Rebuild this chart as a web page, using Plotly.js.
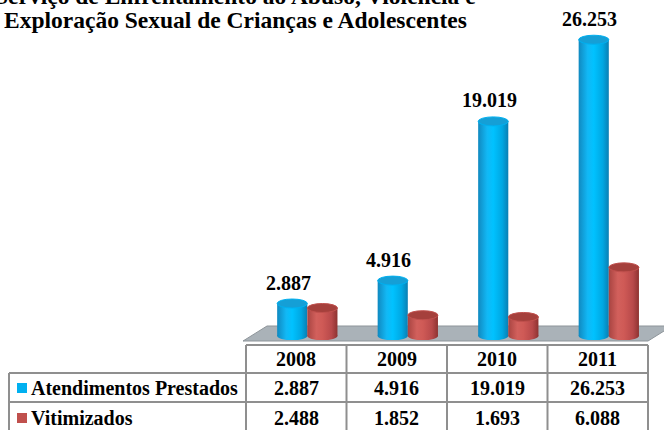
<!DOCTYPE html>
<html><head><meta charset="utf-8">
<script src="https://cdn.plot.ly/plotly-3.0.1.min.js"></script>
<style>html,body{margin:0;padding:0;background:#fff;overflow:hidden}</style>
</head><body><div id="chart" style="width:664px;height:430px"></div>
<script>
// ---- data ----
const years = ['2008', '2009', '2010', '2011'];
const atendimentos = [2887, 4916, 19019, 26253];
const vitimizados = [2488, 1852, 1693, 6088];
const seriesNames = ['Atendimentos Prestados', 'Vitimizados'];
const titleLines = ['Serviço de Enfrentamento ao Abuso, Violência e',
                    'Exploração Sexual de Crianças e Adolescentes'];

// ---- style / layout helpers ----
const W = 664, H = 430, ML = 246, MR = 16, MT = 20, MB = 86;
const PW = W - ML - MR, PH = H - MT - MB;
const px2paper = px => (px - ML) / PW;
const py2paper = py => (H - MB - py) / PH;
const FONT = "'Liberation Serif', 'Times New Roman', serif";
const BLUE = '#00b0f0', RED = '#c0504d';
const BLUE_TOP = '#159fd6', RED_TOP = '#a5403c';
const GRID = '#8f8f8f';
const BAR_W = 0.30, OFFS = [-0.19, 0.11];
const fmt = v => String(v).replace(/\B(?=(\d{3})+(?!\d))/g, '.');

const seriesVals = [atendimentos, vitimizados];
const seriesCols = [BLUE, RED];
const topCols = [BLUE_TOP, RED_TOP];

const traces = seriesVals.map((vals, k) => ({
  type: 'bar', x: years, y: vals, name: seriesNames[k],
  offset: OFFS[k], width: BAR_W,
  marker: {color: seriesCols[k], line: {width: 0}},
  hoverinfo: 'skip', showlegend: false
}));

const shapes = [];
// floor (decoration)
const fb = py2paper(341), ft = py2paper(326), fo = 24 / PW;
shapes.push({type: 'path', xref: 'paper', yref: 'paper', layer: 'below',
  path: `M ${px2paper(243)},${fb} L 1,${fb} L ${1 + fo},${ft} L ${px2paper(267)},${ft} Z`,
  fillcolor: '#aab2b8', line: {color: '#8d9499', width: 1}});
// cylinder bottoms
const bottomIdx = [];
seriesVals.forEach((vals, k) => vals.forEach((v, i) => {
  bottomIdx.push([shapes.length, k]);
  shapes.push({type: 'circle', xref: 'x', yref: 'y', layer: 'below',
    x0: i + OFFS[k], x1: i + OFFS[k] + BAR_W,
    ysizemode: 'pixel', yanchor: 0, y0: -4, y1: 4,
    fillcolor: seriesCols[k], line: {width: 0}});
}));
// cylinder tops
seriesVals.forEach((vals, k) => vals.forEach((v, i) => {
  shapes.push({type: 'circle', xref: 'x', yref: 'y', layer: 'above',
    x0: i + OFFS[k], x1: i + OFFS[k] + BAR_W,
    ysizemode: 'pixel', yanchor: v, y0: -4.5, y1: 4.5,
    fillcolor: topCols[k], line: {color: seriesCols[k], width: 1}});
}));

// table grid
const tTop = py2paper(345), tR1 = py2paper(373), tR2 = py2paper(402), tBot = py2paper(440);
const tLeft = px2paper(9);
const line = (x0, y0, x1, y1) => ({type: 'line', xref: 'paper', yref: 'paper',
  x0, y0, x1, y1, line: {color: GRID, width: 2}});
shapes.push(line(0, tTop, 1, tTop));
shapes.push(line(tLeft, tR1, 1, tR1));
shapes.push(line(tLeft, tR2, 1, tR2));
shapes.push(line(tLeft, tR1, tLeft, tBot));
for (let c = 0; c <= years.length; c++) shapes.push(line(c / years.length, tTop, c / years.length, tBot));
// legend keys
const rowCenters = [388, 418];
rowCenters.forEach((cy, k) => shapes.push({type: 'rect', xref: 'paper', yref: 'paper',
  x0: px2paper(17), x1: px2paper(27), y0: py2paper(cy + 5), y1: py2paper(cy - 5),
  fillcolor: seriesCols[k], line: {width: 0}}));

const annotations = [];
const tf = (size) => ({family: FONT, size, color: '#000'});
// title (first line partly above the top edge, as in the reference)
annotations.push({xref: 'paper', yref: 'paper', x: px2paper(235), y: py2paper(11), xanchor: 'center', yanchor: 'bottom',
  text: '<b>' + titleLines[0] + '</b>', showarrow: false, font: tf(23.5)});
annotations.push({xref: 'paper', yref: 'paper', x: px2paper(235), y: py2paper(35), xanchor: 'center', yanchor: 'bottom',
  text: '<b>' + titleLines[1] + '</b>', showarrow: false, font: tf(23.5)});
// data labels (first series)
atendimentos.forEach((v, i) => annotations.push({xref: 'x', yref: 'y', x: i, y: v,
  xshift: -8, yshift: 8, yanchor: 'bottom', showarrow: false,
  text: '<b>' + fmt(v) + '</b>', font: tf(20)}));
// table header
years.forEach((yr, i) => annotations.push({xref: 'x', yref: 'paper', x: i, y: py2paper(359),
  yanchor: 'middle', showarrow: false, text: '<b>' + yr + '</b>', font: tf(20)}));
// table rows
seriesVals.forEach((vals, k) => {
  annotations.push({xref: 'paper', yref: 'paper', x: px2paper(29), y: py2paper(rowCenters[k]),
    xanchor: 'left', yanchor: 'middle', showarrow: false, text: '<b>' + seriesNames[k] + '</b>', font: tf(20)});
  vals.forEach((v, i) => annotations.push({xref: 'x', yref: 'paper', x: i, y: py2paper(rowCenters[k]),
    yanchor: 'middle', showarrow: false, text: '<b>' + fmt(v) + '</b>', font: tf(20)}));
});

const layout = {
  width: W, height: H, margin: {l: ML, r: MR, t: MT, b: MB, pad: 0},
  paper_bgcolor: '#fff', plot_bgcolor: 'rgba(0,0,0,0)',
  barmode: 'overlay', showlegend: false,
  xaxis: {type: 'category', range: [-0.5, years.length - 0.5], visible: false, fixedrange: true},
  yaxis: {range: [-700, 28000], visible: false, fixedrange: true},
  shapes, annotations
};

Plotly.newPlot('chart', traces, layout, {displayModeBar: false, staticPlot: true}).then(gd => {
  const ns = 'http://www.w3.org/2000/svg';
  const svg = gd.querySelector('svg.main-svg');
  let defs = svg.querySelector('defs');
  if (!defs) { defs = document.createElementNS(ns, 'defs'); svg.insertBefore(defs, svg.firstChild); }
  const grads = [
    [['0', '#1089c0'], ['0.3', '#12b8f5'], ['0.5', '#00c2ff'], ['0.8', '#00a7e2'], ['1', '#0a7fb3']],
    [['0', '#a84441'], ['0.3', '#d2605c'], ['0.5', '#cf5a56'], ['0.8', '#b8494a'], ['1', '#8e3331']]
  ];
  grads.forEach((st, k) => {
    const g = document.createElementNS(ns, 'linearGradient');
    g.setAttribute('id', 'cylGrad' + k);
    g.setAttribute('x1', '0'); g.setAttribute('x2', '1'); g.setAttribute('y1', '0'); g.setAttribute('y2', '0');
    st.forEach(([o, c]) => { const s = document.createElementNS(ns, 'stop'); s.setAttribute('offset', o); s.setAttribute('stop-color', c); g.appendChild(s); });
    defs.appendChild(g);
  });
  gd.querySelectorAll('.barlayer .trace').forEach((tr, k) => {
    tr.querySelectorAll('path').forEach(p => { p.style.fill = 'url(#cylGrad' + k + ')'; });
  });
  bottomIdx.forEach(([idx, k]) => {
    gd.querySelectorAll('path[data-index="' + idx + '"]').forEach(p => { p.style.fill = 'url(#cylGrad' + k + ')'; });
  });
});
</script></body></html>
